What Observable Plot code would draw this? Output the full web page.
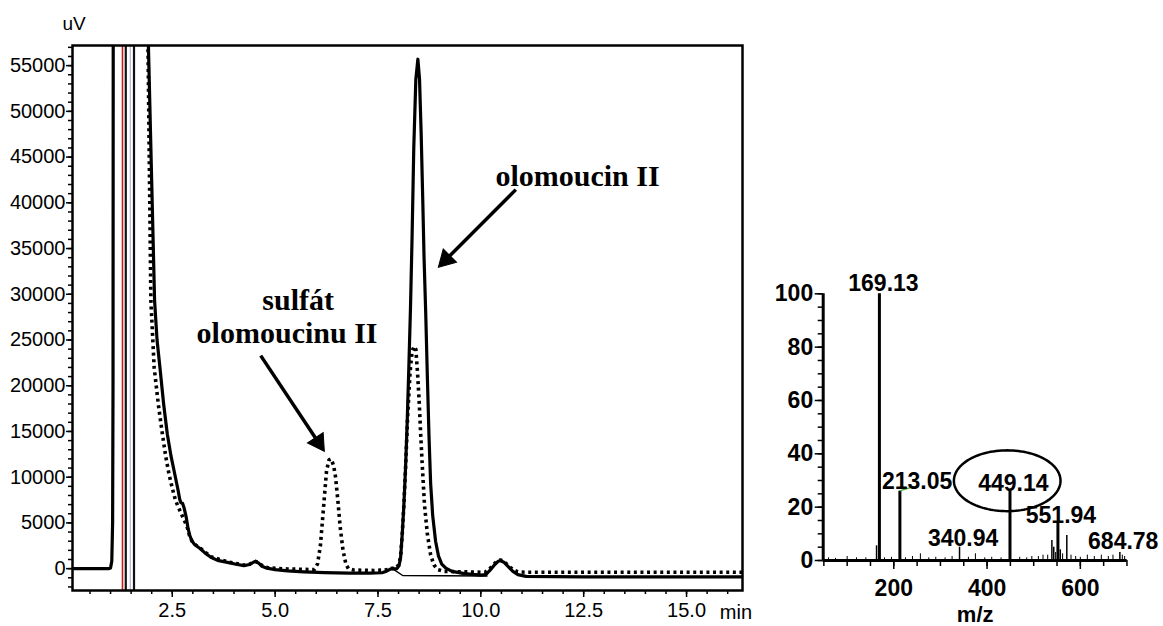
<!DOCTYPE html>
<html>
<head>
<meta charset="utf-8">
<script src="https://cdn.jsdelivr.net/npm/d3@7"></script>
<script src="https://cdn.jsdelivr.net/npm/@observablehq/plot@0.6"></script>
<style>
  html, body { margin: 0; padding: 0; background: white; }
  #wrap { position: relative; width: 1163px; height: 626px; overflow: hidden; background: white; }
  #wrap svg { position: absolute; top: 0; }
</style>
</head>
<body>
<div id="wrap"></div>
<script>
// ---------- Chromatogram (left) ----------
const xTicks = [2.5, 5, 7.5, 10, 12.5, 15];
const xTickLabels = ["2.5", "5.0", "7.5", "10.0", "12.5", "15.0"];
const yTicks = [0, 5000, 10000, 15000, 20000, 25000, 30000, 35000, 40000, 45000, 50000, 55000];
const yTickLabels = ["0", "5000", "10000", "15000", "20000", "25000", "30000", "35000", "40000", "45000", "50000", "55000"];

// solid trace (olomoucin II)
const solidTime = [0.075, 0.95, 1.00, 1.03, 1.05, 1.06, 1.065, 1.07, 1.90, 1.92, 2.00, 2.07, 2.13, 2.20, 2.29, 2.38, 2.47, 2.56, 2.64, 2.68, 2.71, 2.75, 2.79, 2.84, 2.88, 2.92, 2.97, 3.03, 3.10, 3.19, 3.30, 3.44, 3.60, 3.84, 4.05, 4.24, 4.38, 4.47, 4.53, 4.60, 4.68, 4.80, 5.00, 5.30, 5.70, 6.20, 6.80, 7.30, 7.60, 7.72, 7.80, 7.85, 7.90, 7.96, 8.01, 8.05, 8.09, 8.13, 8.17, 8.21, 8.25, 8.29, 8.33, 8.37, 8.42, 8.47, 8.51, 8.55, 8.59, 8.62, 8.66, 8.70, 8.74, 8.78, 8.83, 8.90, 8.97, 9.05, 9.15, 9.30, 9.60, 10.00, 10.12, 10.22, 10.32, 10.42, 10.48, 10.56, 10.66, 10.78, 10.90, 11.10, 12.50, 16.36];
const solidSignal = [0, 0, 80, 800, 5000, 20000, 60000, 90000, 90000, 57200, 42300, 29300, 25000, 22000, 18000, 14700, 12300, 10350, 8600, 7600, 7200, 7150, 6600, 5600, 4500, 3700, 3100, 2700, 2450, 2150, 1700, 1240, 900, 690, 480, 330, 450, 700, 800, 600, 250, 50, -100, -250, -350, -430, -480, -500, -450, -250, -50, 0, -30, 0, 300, 1200, 3800, 7000, 11000, 16000, 22000, 28500, 36500, 46000, 53500, 55700, 53500, 47500, 40000, 34000, 28000, 21000, 14500, 9300, 5800, 3000, 1400, 500, 50, -300, -550, -700, -650, -200, 350, 800, 870, 700, 250, -300, -650, -850, -900, -900];

// dotted trace (sulfát olomoucinu II)
const dottedTime = [1.89, 1.91, 1.98, 2.06, 2.16, 2.26, 2.34, 2.42, 2.50, 2.58, 2.66, 2.72, 2.80, 2.86, 2.92, 2.98, 3.05, 3.19, 3.44, 3.84, 4.24, 4.38, 4.50, 4.60, 4.70, 4.85, 5.30, 5.95, 6.03, 6.10, 6.15, 6.20, 6.25, 6.31, 6.36, 6.42, 6.47, 6.53, 6.58, 6.65, 6.72, 6.78, 6.90, 7.40, 7.65, 7.78, 7.85, 7.92, 8.00, 8.05, 8.09, 8.13, 8.17, 8.22, 8.28, 8.33, 8.38, 8.42, 8.46, 8.50, 8.54, 8.58, 8.63, 8.70, 8.78, 8.86, 8.95, 9.10, 9.60, 10.10, 10.20, 10.30, 10.40, 10.48, 10.56, 10.66, 10.78, 10.90, 11.10, 16.36];
const dottedSignal = [90000, 57200, 29300, 22000, 18000, 14700, 12300, 10350, 8800, 7440, 6600, 6000, 5200, 4600, 3600, 3000, 2650, 2200, 1300, 750, 380, 500, 820, 650, 250, 80, -40, -100, 500, 2500, 5200, 8000, 10700, 11900, 12000, 11300, 10000, 7200, 4600, 2000, 500, 0, -150, -200, -150, -50, 50, 0, 400, 1300, 3800, 7000, 11000, 16500, 21500, 23800, 24300, 24000, 21500, 18400, 14500, 11000, 7000, 3800, 1500, 400, -100, -300, -350, -400, -100, 400, 850, 950, 800, 350, -100, -350, -400, -400];

// integration baseline drawn under the main peak
const baseTime = [7.85, 8.10, 10.15];
const baseSignal = [0, -750, -800];

// marker lines
const markerTime = [1.29, 1.37, 1.48, 1.57];
const markerColor = ["#d01818", "#111111", "#b9aed6", "#111111"];

// annotations (data units)
const annotText = ["olomoucin II", "sulfát", "olomoucinu II"];
const annotTime = [12.35, 5.56, 5.29];
const annotSignal = [42900, 29300, 25700];
const arrowFromTime = [10.85, 4.65];
const arrowFromSignal = [41440, 23290];
const arrowHeadTime = [9.155, 6.05];
const arrowHeadSignal = [33800, 13810];
const arrowHeadAngle = [225, 146.4];

const solid = solidTime.map((t, i) => ({t, v: solidSignal[i]}));
const dotted = dottedTime.map((t, i) => ({t, v: dottedSignal[i]}));
const base = baseTime.map((t, i) => ({t, v: baseSignal[i]}));
const markers = markerTime.map((t, i) => ({t, c: markerColor[i]}));
const annots = annotText.map((s, i) => ({s, t: annotTime[i], v: annotSignal[i]}));
const arrows = arrowFromTime.map((t, i) => ({t1: t, v1: arrowFromSignal[i], t2: arrowHeadTime[i], v2: arrowHeadSignal[i], a: arrowHeadAngle[i]}));

const sans = "'Liberation Sans', Arial, sans-serif";
const serif = "'Liberation Serif', 'Times New Roman', serif";

const xDomain = [0.075, 16.36];
const yDomain = [-2390, 57200];

const left = Plot.plot({
  width: 760, height: 626,
  marginLeft: 72, marginRight: 18, marginTop: 45, marginBottom: 36,
  x: {domain: xDomain},
  y: {domain: yDomain},
  style: {fontFamily: sans, fontSize: "20px", background: "transparent", overflow: "visible"},
  marks: [
    Plot.axisX({ticks: d3.range(0.5, 16.3, 0.5), tickSize: 4, strokeWidth: 1.5, tickFormat: () => "", label: null}),
    Plot.axisX({ticks: xTicks, tickSize: 7, strokeWidth: 1.5, tickPadding: 5, fontSize: 20, fontFamily: sans,
      tickFormat: d => xTickLabels[xTicks.indexOf(d)], label: null}),
    Plot.axisY({ticks: d3.range(-2000, 57001, 1000), tickSize: 4, strokeWidth: 1.5, tickFormat: () => "", label: null}),
    Plot.axisY({ticks: yTicks, tickSize: 6, strokeWidth: 1.5, tickPadding: 1, fontSize: 20, fontFamily: sans,
      tickFormat: d => yTickLabels[yTicks.indexOf(d)], label: null}),
    Plot.ruleX(markers, {x: "t", stroke: "c", strokeWidth: d => d.c === "#d01818" ? 1.6 : (d.c === "#b9aed6" ? 1.2 : 2.2)}),
    Plot.line(base, {x: "t", y: "v", stroke: "black", strokeWidth: 1.5}),
    Plot.line(solid, {x: "t", y: "v", stroke: "black", strokeWidth: 3.2, curve: "linear", clip: true}),
    Plot.line(dotted, {x: "t", y: "v", stroke: "black", strokeWidth: 3.6, strokeDasharray: "3,3.6", strokeLinecap: "butt", clip: true}),
    Plot.frame({stroke: "black", strokeWidth: 2.5}),
    Plot.link(arrows, {x1: "t1", y1: "v1", x2: "t2", y2: "v2", stroke: "black", strokeWidth: 3.5}),
    Plot.dot(arrows, {x: "t2", y: "v2", symbol: "triangle", r: 7, rotate: "a", fill: "black", stroke: "black", strokeWidth: 1}),
    Plot.text(annots, {x: "t", y: "v", text: "s", fontFamily: serif, fontWeight: "bold", fontSize: 30, fill: "black", lineAnchor: "middle"}),
    Plot.text(["uV"], {frameAnchor: "top-left", dx: -10, dy: -22, textAnchor: "start", lineAnchor: "middle", fontSize: 19, fontFamily: sans}),
    Plot.text([{t: 16.2, s: "min"}], {x: "t", text: "s", frameAnchor: "bottom", dy: 22, lineAnchor: "middle", fontSize: 20, fontFamily: sans})
  ]
});
left.style.left = "0px";

// ---------- Mass spectrum (right) ----------
const msXTicks = [200, 400, 600];
const msYTicks = [0, 20, 40, 60, 80, 100];
const bigPeakMz = [169.13, 213.05, 449.14, 551.94];
const bigPeakInt = [100, 26, 26, 14.5];
const smallPeakMz = [340.94, 684.78, 163, 539, 571, 557, 543];
const smallPeakInt = [5, 3, 5.5, 7.5, 9.4, 4, 5];
const noiseMz = [60, 75, 100, 120, 140, 180, 195, 225, 240, 257, 275, 290, 310, 325, 360, 375, 395, 410, 430, 470, 485, 496, 510, 520, 530, 547, 562, 580, 590, 600, 615, 630, 645, 660, 670, 690, 695];
const noiseInt = [1, 0.8, 1.5, 1, 1, 1, 1.2, 1, 1.5, 2.5, 1, 1.2, 1, 1.5, 1.2, 2.5, 1, 1.2, 1, 1.2, 1, 1.5, 1.5, 2, 2, 3, 2.5, 2, 1.5, 1.2, 2, 1.5, 2, 1.5, 2, 2, 1.5];
const peakLabels = ["169.13", "213.05", "449.14", "340.94", "551.94", "684.78"];
const peakLabelMz = [177.8, 250, 456.4, 348.6, 558.4, 692];
const peakLabelInt = [103.9, 29.4, 28.9, 8.2, 17, 6.9];
// circle around 449.14
const ringCenterMz = 443.2, ringCenterInt = 29.9, ringRadiusMz = 114.3, ringRadiusInt = 11.4;
// small green mark near 213.05
const greenMz = [214.3, 242.8];
const greenInt = [26.2, 27.7];

const msDomainX = [48.6, 700.5];
const msDomainY = [0, 100];

const big = bigPeakMz.map((m, i) => ({m, y: bigPeakInt[i]}));
const small = smallPeakMz.map((m, i) => ({m, y: smallPeakInt[i]}));
const noise = noiseMz.map((m, i) => ({m, y: noiseInt[i]}));
const labels = peakLabels.map((s, i) => ({s, m: peakLabelMz[i], y: peakLabelInt[i]}));
const ring = d3.range(0, 361, 3).map(a => ({
  m: ringCenterMz + ringRadiusMz * Math.cos(a * Math.PI / 180),
  y: ringCenterInt + ringRadiusInt * Math.sin(a * Math.PI / 180)
}));
const green = greenMz.map((m, i) => ({m, y: greenInt[i]}));

const right = Plot.plot({
  width: 403, height: 626,
  marginLeft: 62.7, marginRight: 36.3, marginTop: 293.3, marginBottom: 66,
  x: {domain: msDomainX},
  y: {domain: msDomainY},
  style: {fontFamily: sans, fontSize: "23px", fontWeight: "bold", background: "transparent", overflow: "visible"},
  marks: [
    Plot.axisX({ticks: d3.range(50, 701, 50), tickSize: 6, strokeWidth: 1.5, tickFormat: () => "", label: null}),
    Plot.axisX({ticks: msXTicks, tickSize: 9, strokeWidth: 1.5, tickPadding: 10, fontSize: 23, fontWeight: "bold", fontFamily: sans, label: null}),
    Plot.axisY({ticks: d3.range(0, 101, 5), tickSize: 5, strokeWidth: 1.5, tickFormat: () => "", label: null}),
    Plot.axisY({ticks: msYTicks, tickSize: 8, strokeWidth: 1.5, tickPadding: 2, fontSize: 23, fontWeight: "bold", fontFamily: sans, label: null}),
    Plot.ruleX(noise, {x: "m", y1: 0, y2: "y", stroke: "black", strokeWidth: 1}),
    Plot.ruleX(small, {x: "m", y1: 0, y2: "y", stroke: "black", strokeWidth: 1.5}),
    Plot.ruleX(big, {x: "m", y1: 0, y2: "y", stroke: "black", strokeWidth: 3}),
    Plot.ruleY([msDomainY[0]], {stroke: "black", strokeWidth: 3}),
    Plot.ruleX([msDomainX[0]], {y1: msDomainY[0], y2: msDomainY[1], stroke: "black", strokeWidth: 3}),
    Plot.line(green, {x: "m", y: "y", stroke: "#3cb043", strokeWidth: 1.5}),
    Plot.line(ring, {x: "m", y: "y", stroke: "black", strokeWidth: 2.5}),
    Plot.text(labels, {x: "m", y: "y", text: "s", fontSize: 23, fontWeight: "bold", fontFamily: sans, fill: "black", lineAnchor: "middle"}),
    Plot.text(["m/z"], {frameAnchor: "bottom", dy: 54, lineAnchor: "middle", fontSize: 22, fontWeight: "bold", fontFamily: sans})
  ]
});
right.style.left = "760px";

const wrap = document.getElementById("wrap");
wrap.appendChild(left);
wrap.appendChild(right);
</script>
</body>
</html>
